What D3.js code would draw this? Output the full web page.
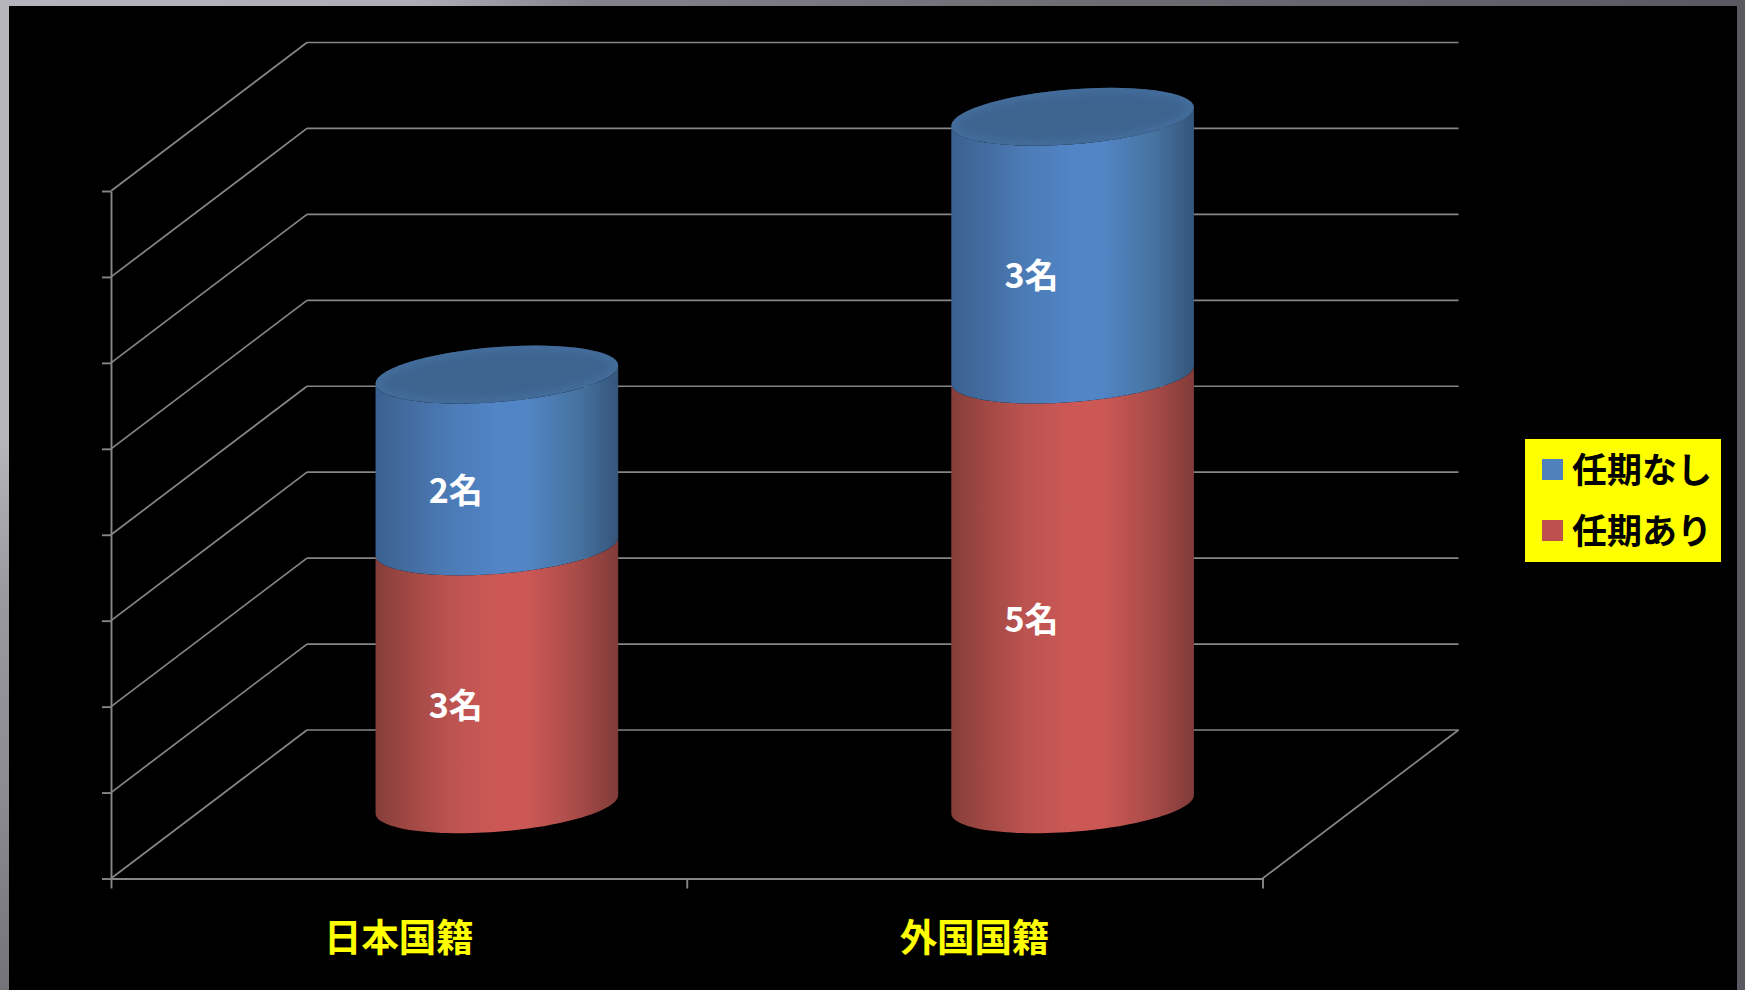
<!DOCTYPE html>
<html>
<head>
<meta charset="utf-8">
<style>
body { margin: 0; background: #000; }
svg { display: block; }
text { font-family: "Noto Sans CJK JP", sans-serif; }
</style>
<script src="https://cdn.jsdelivr.net/npm/d3@7"></script>
</head>
<body>
<svg id="chart" width="1745" height="990"></svg>
<script>
'use strict';

var categories = ['日本国籍', '外国国籍'];
var seriesNames = ['任期あり', '任期なし'];
var fixedTerm = [3, 5];
var permanent = [2, 3];
var yTicks = [0, 1, 2, 3, 4, 5, 6, 7, 8];
var seriesColors = ['#C0504D', '#4F81BD'];

var plotLeft = 111, plotRight = 1262.5, plotBottom = 878.5, plotTop = 191;
var depthX = 196, depthY = -148.5;
var radiusX = 0.2, radiusDepth = 0.195;
var gridColor = '#868686';

var svg = d3.select('#chart');
var defs = svg.append('defs');

var x = d3.scaleBand().domain(categories).range([plotLeft, plotRight]);
var y = d3.scaleLinear().domain([0, 8]).range([plotBottom, plotTop]);

// screen position of a value at a given depth into the chart box (0 front, 1 back)
function Project(px, value, depth) {
    return [px + depthX * depth, y(value) + depthY * depth];
}

function AddGradient(id, stops, x2, y2) {
    var g = defs.append('linearGradient').attr('id', id)
        .attr('x1', 0).attr('y1', 0).attr('x2', x2).attr('y2', y2);
    stops.forEach(function(s) {
        g.append('stop').attr('offset', s[0]).attr('stop-color', s[1]);
    });
}

AddGradient('frameTop', [[0, '#b6b4bc'], [0.24, '#aeacb4'], [0.34, '#84828a'], [0.6, '#706e75'], [1, '#5a5860']], 1, 0);
AddGradient('frameLeft', [[0, '#b6b4bc'], [0.44, '#b6b4bc'], [0.6, '#9a98a0'], [0.8, '#8c8a92'], [1, '#75737a']], 0, 1);
AddGradient('body0', [[0, '#843e3b'], [0.08, '#96443f'], [0.3, '#bb5350'], [0.5, '#cc5855'], [0.62, '#cc5855'], [0.82, '#aa4c49'], [1, '#803b39']], 1, 0);
AddGradient('body1', [[0, '#39608f'], [0.1, '#41699b'], [0.32, '#4c7cb8'], [0.5, '#5285c6'], [0.62, '#5285c6'], [0.84, '#45729f'], [1, '#35557b']], 1, 0);
defs.append('filter').attr('id', 'soft')
    .append('feGaussianBlur').attr('stdDeviation', 4);

// window frame around the picture
svg.append('rect').attr('x', 0).attr('y', 0).attr('width', 1745).attr('height', 6).attr('fill', 'url(#frameTop)');
svg.append('rect').attr('x', 0).attr('y', 0).attr('width', 9).attr('height', 990).attr('fill', 'url(#frameLeft)');
svg.append('rect').attr('x', 1737).attr('y', 0).attr('width', 8).attr('height', 990).attr('fill', '#5a5860');

// back wall and side wall grid
var grid = svg.append('g').attr('fill', 'none').attr('stroke', gridColor).attr('stroke-width', 1.7);
grid.selectAll('.back').data(yTicks).enter().append('line')
    .attr('x1', plotLeft + depthX).attr('x2', plotRight + depthX)
    .attr('y1', function(d) { return y(d) + depthY; })
    .attr('y2', function(d) { return y(d) + depthY; });
grid.selectAll('.side').data(yTicks).enter().append('line')
    .attr('x1', plotLeft).attr('x2', plotLeft + depthX)
    .attr('y1', function(d) { return y(d); })
    .attr('y2', function(d) { return y(d) + depthY; });
grid.append('line')
    .attr('x1', plotRight).attr('x2', plotRight + depthX)
    .attr('y1', y(0)).attr('y2', y(0) + depthY);

// axes
var yAxis = d3.axisLeft(y).tickValues(yTicks).tickFormat('').tickSize(9).tickSizeOuter(0);
var edges = d3.scaleLinear().domain([0, categories.length]).range([plotLeft, plotRight]);
var xAxis = d3.axisBottom(edges).tickValues(d3.range(categories.length + 1)).tickFormat('').tickSize(10).tickSizeOuter(0);
[svg.append('g').attr('transform', 'translate(' + plotLeft + ',0)').call(yAxis),
 svg.append('g').attr('transform', 'translate(0,' + plotBottom + ')').call(xAxis)].forEach(function(a) {
    a.selectAll('path, line').attr('stroke', gridColor).attr('stroke-width', 1.9);
});

// points on the ring of a column at one value, from angle a0 to a1
function Ring(category, value, a0, a1) {
    var cx = x(category) + x.bandwidth() / 2;
    var rx = x.bandwidth() * radiusX;
    return d3.range(0, 61).map(function(i) {
        var t = a0 + (a1 - a0) * i / 60;
        return Project(cx + rx * Math.cos(t), value, 0.5 + radiusDepth * Math.sin(t));
    });
}

var pathLine = d3.line();
var stackTotals = categories.map(function() { return 0; });

[fixedTerm, permanent].forEach(function(values, s) {
    categories.forEach(function(category, c) {
        var from = stackTotals[c], to = from + values[c];
        stackTotals[c] = to;
        // start angle sits at the silhouette tip of the sheared ellipse
        var tip = Math.atan2(depthX * radiusDepth, x.bandwidth() * radiusX);
        var lower = Ring(category, from, tip + Math.PI, tip + 2 * Math.PI);
        var upper = Ring(category, to, tip + 2 * Math.PI, tip + Math.PI);
        svg.append('path')
            .attr('d', pathLine(lower.concat(upper)) + 'Z')
            .attr('fill', 'url(#body' + s + ')');
        if (s === 1) {
            // lid: flat fill with a soft lighter rim
            var lid = pathLine(Ring(category, to, 0, 2 * Math.PI)) + 'Z';
            defs.append('clipPath').attr('id', 'lid' + c).append('path').attr('d', lid);
            svg.append('path').attr('d', lid).attr('fill', '#3e6490');
            svg.append('g').attr('clip-path', 'url(#lid' + c + ')')
                .append('path').attr('d', lid)
                .attr('fill', 'none').attr('stroke', '#446f9f').attr('stroke-width', 8)
                .attr('filter', 'url(#soft)');
        }
    });
});

// data labels sit on the front of each segment
var labelDepth = 0.29;
stackTotals = categories.map(function() { return 0; });
[fixedTerm, permanent].forEach(function(values) {
    categories.forEach(function(category, c) {
        var mid = stackTotals[c] + values[c] / 2;
        stackTotals[c] += values[c];
        var p = Project(x(category) + x.bandwidth() / 2, mid, labelDepth);
        svg.append('text')
            .attr('x', p[0]).attr('y', p[1] - 3)
            .attr('text-anchor', 'middle').attr('dominant-baseline', 'central')
            .attr('font-size', 34).attr('font-weight', 700).attr('fill', '#fff')
            .text(values[c] + '名');
    });
});

// category labels
svg.selectAll('.cat').data(categories).enter().append('text')
    .attr('x', function(d) { return x(d) + x.bandwidth() / 2; })
    .attr('y', 934)
    .attr('text-anchor', 'middle').attr('dominant-baseline', 'central')
    .attr('font-size', 37.5).attr('font-weight', 700).attr('fill', '#ffff00')
    .text(function(d) { return d; });

// legend, last series first
var legend = svg.append('g');
legend.append('rect').attr('x', 1525).attr('y', 439).attr('width', 196).attr('height', 123).attr('fill', '#ffff00');
var legendOrder = seriesNames.map(function(d, i) { return i; }).reverse();
legendOrder.forEach(function(s, i) {
    var rowY = 469.5 + i * 61;
    legend.append('rect').attr('x', 1542).attr('y', rowY - 10.5).attr('width', 21).attr('height', 21).attr('fill', seriesColors[s]);
    legend.append('text')
        .attr('x', 1572).attr('y', rowY - 2)
        .attr('dominant-baseline', 'central')
        .attr('font-size', 35).attr('font-weight', 700).attr('fill', '#000')
        .text(seriesNames[s]);
});
</script>
</body>
</html>
